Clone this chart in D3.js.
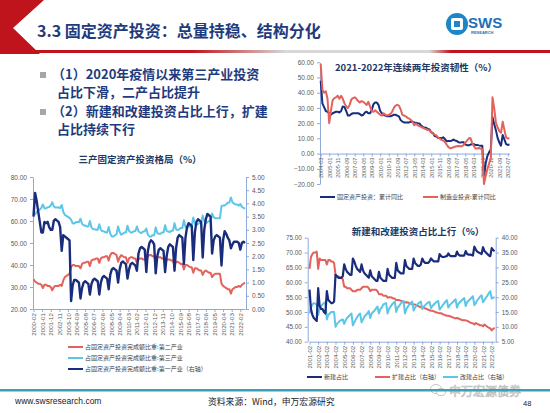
<!DOCTYPE html>
<html><head><meta charset="utf-8">
<script src="https://cdn.jsdelivr.net/npm/d3@7"></script>
<style>body{margin:0;background:#fff;}svg{display:block;}</style>
</head><body>
<script>
// ---------- DATA ----------
// Chart 1: 三产固定资产投资格局 (2-month steps from 2000-02)
const c1Start = "2000-02";
const c1XTicks = ["2000-02","2001-01","2001-12","2002-11","2003-10","2004-09","2005-08","2006-07","2007-06","2008-05","2009-04","2010-03","2011-02","2012-01","2012-12","2013-11","2014-10","2015-09","2016-08","2017-07","2018-06","2019-05","2020-04","2021-03","2022-02"];
const c1LeftTicks = [20,30,40,50,60,70,80];
const c1RightTicks = [0,0.5,1,1.5,2,2.5,3,3.5,4,4.5,5];
const c1Secondary = [
33.5,32.5,32,31.5,31.5,31, 29.5,31,31,30.5,30.5,30, 28.5,30,30.5,30.5,30.5,31, 30.5,33,34.5,35,35.5,36,
39,40,40,39.5,39.5,39.5, 38.5,40.5,41,41,41.5,41.5, 39.5,42,42.5,42.5,43,43, 41,43,43.5,43.5,44,44,
42,44.5,45.5,45.5,45,44.5, 41.5,43.5,44.5,44,43.5,43.5, 41,43,43.5,43.5,43,43, 41,42.5,43,43,42.5,42.5,
42,44,44.5,44.5,44,44, 41.5,43.5,43.5,43.5,43,43, 40.5,42.5,42.5,42.5,42,42, 39.5,41.5,41.5,41,40.5,40.5,
38,40,40,39.5,39,39, 36.5,38.5,38.5,38,37.5,37.5, 35.5,37,37.5,37,36.5,36.5, 34.5,35.5,36,36,36,36,
31.5,30.5,30,29.5,29,29, 27,29,29.5,30,30,30.5, 30,31,31.5,32];
const c1Tertiary = [
63,63,64,64.8,65.2,66, 67.5,65.7,65.8,66.2,66.4,67, 68.5,66.6,66.1,66.1,66.2,65.9, 67.3,64.2,62.8,62.3,61.9,61.4,
60.5,59,58.9,59.4,59.5,59.5, 61,58.7,58,58,57.5,57.5, 60,57,56.4,56.3,56,56, 58.5,56,55.3,55.3,54.8,54.8,
57.3,54.2,53,53,53.5,54, 57.5,55,53.8,54.2,54.8,54.8, 57.8,55.5,54.8,54.8,55.3,55.4, 57.5,55.4,54.7,54.6,55.2,55.3,
56.6,53.8,53,52.9,53.5,53.5, 57.1,54.5,54.2,54.2,54.8,54.8, 58.1,55.5,55.2,55,55.6,55.6, 59,56.2,55.8,56.2,56.8,56.8,
60.3,57.3,56.9,57.2,57.8,57.9, 61.6,58.6,58.2,58.6,59.2,59.2, 62.5,60,59.1,59.4,60,60, 63.4,61.7,61.2,61.2,61.3,61.3,
66.8,67,67,67.6,68.3,68.4, 70.7,68.5,67.9,67.5,67.5,67, 67.7,66.5,66,65.5];
const c1Primary = [
3.5,4.4,4.1,3.7,3.3,2.9, 2.9,3.3,3.25,3.3,3.1,3.0, 3.0,3.35,3.4,3.35,3.3,3.1, 2.2,2.8,2.75,2.7,2.65,2.6,
0.3,0.9,1.1,1.1,1.05,1.0, 0.4,0.8,1.0,1.05,1.0,0.95, 0.55,0.95,1.1,1.15,1.1,1.05, 0.55,1.0,1.2,1.25,1.2,1.15,
0.75,1.3,1.5,1.55,1.5,1.45, 1.0,1.5,1.75,1.8,1.75,1.7, 1.15,1.5,1.7,1.75,1.7,1.65, 1.45,2.1,2.3,2.35,2.3,2.25,
1.4,2.2,2.5,2.6,2.55,2.45, 1.35,2.0,2.25,2.3,2.25,2.2, 1.4,2.0,2.35,2.45,2.4,2.35, 1.45,2.3,2.7,2.8,2.75,2.7,
1.7,2.7,3.1,3.25,3.2,3.15, 1.85,2.9,3.3,3.4,3.35,3.3, 1.95,3.0,3.4,3.6,3.55,3.5, 2.1,2.6,2.75,2.8,2.75,2.7,
1.65,2.6,2.95,2.85,2.7,2.6, 2.3,2.45,2.55,2.55,2.55,2.5, 2.25,2.5,2.55,2.5];
const c1Legend = ["占固定资产投资完成额比重:第二产业","占固定资产投资完成额比重:第三产业","占固定资产投资完成额比重:第一产业（右轴）"];

// Chart 2: 2021-2022年连续两年投资韧性 (2-month steps from 2004-03)
const c2Start = "2004-03";
const c2XTicks = ["2004-03","2005-01","2005-11","2006-09","2007-07","2008-05","2009-03","2010-01","2010-11","2011-09","2012-07","2013-05","2014-03","2015-01","2015-11","2016-09","2017-07","2018-05","2019-03","2020-01","2020-11","2021-09","2022-07"];
const c2YTicks = [-20,-10,0,10,20,30,40,50,60];
const c2FAI = [
48,33,30.5,28,27.5,26.5, 25.5,26.5,27,27.5,27.5,27, 28,31,30.5,28,25,25, 26,26.5,26.5,26.5,26.5,26,
25,25.5,27,27.5,26.5,26.5, 28.5,32.5,33.5,33.5,32,28, 26.5,25.5,25,24.5,24.5,24.5, 25,25.5,25.5,25,24.5,22,
21,20.5,20.5,20.5,20.5,21, 21,20.5,20.3,20,19.8,18.5, 17.6,17,17,16.1,15.8,14, 13.5,11.5,11.2,10.3,10.2,10.2,
10.7,9.6,8.1,8.2,8.3,8.5, 9.2,8.6,8.3,7.5,7.2,7.5, 7.5,6.1,5.5,5.4,5.9,6.1, 6.3,5.6,5.7,5.4,5.2,5.2,
-16.1,-6.3,-1.6,0.8,2.6,24, 19.5,15.4,10.3,7.3,5.2,12.2, 9.3,6.2,5.7,5.9];
const c2Mfg = [
59,42,40,41,36,20, 28,35,36.5,37,38,36, 38,36,33,31,30,32, 35.5,36.5,37,36,34.5,33.5,
34.5,34,33,32,34,31, 28,27.5,28.5,27.5,26.5,25.5, 25,26.5,25.5,25,25.5,26, 27.5,30,31.5,32,31.5,29,
25.5,25,24.5,23.5,23,22, 21,18.6,19.8,18.5,18,17.5, 17,16.4,16,15.5,15.3,14, 13.2,12.5,12,10.5,9.9,9,
8.6,7.7,6,4.4,3.5,3.6, 4.2,4.5,4.8,5,4.8,4.8, 5.5,7.2,8.5,9.9,10.3,7.2, 5,3.3,3.3,3.7,3.1,3,
-20,-14.8,-10.2,-6.5,-3.5,37, 29.8,20.4,17.3,14.8,13.7,20.9, 15.6,10.6,9.9,10.1];
const c2Legend = ["固定资产投资：累计同比","制造业投资:累计同比"];

// Chart 3: 新建和改建投资占比上行 (2-month steps from 2001-02)
const c3Start = "2001-02";
const c3XTicks = ["2001-02","2002-02","2003-02","2004-02","2005-02","2006-02","2007-02","2008-02","2009-02","2010-02","2011-02","2012-02","2013-02","2014-02","2015-02","2016-02","2017-02","2018-02","2019-02","2020-02","2021-02","2022-02"];
const c3LeftTicks = [40,45,50,55,60,65,70,75];
const c3RightTicks = [5,10,15,20,25,30,35,40];
const c3New = [
57.5,51,49,48,47.5,47, 58,52,51,51,50,49.5, 57,54,53.5,53,53,53.5, 62.5,62,61.5,61.5,61.5,62,
66,64.5,63.5,63,62.5,62.5, 68,67,65.5,64.5,64,63.5, 66,64,63,62.5,62,61.5, 64,62,61.5,61,60.5,60.5,
63.5,61.5,61,60.5,60.5,60.5, 64.5,62.5,62,61.5,61.5,61.5, 66.5,64,63.5,63,63,63, 67.5,65.5,65,64.5,64.5,64.5,
68,66.5,66,65.5,65.5,66, 68,67,66.5,66.5,66.5,67, 68,67.5,67,67,67,67, 69.5,68.8,68.5,68.5,68.7,68.8,
69.7,69,68.8,68.8,68.8,68.8, 70.3,69.3,69,69,69,69, 70.5,69.5,69.3,69.3,69.2,69, 72,71,70.3,70,69.8,69.5,
71.8,70.5,70,69.5,69,68.8, 71.5,70.8,70.5];
const c3Expand = [
29.5,33.5,34.5,35,35,35.3, 29.5,33,32.5,32.5,32.5,32.5, 31,32.5,32.5,32,32,31.5, 27.5,27,27,26.5,26.5,26,
23.5,23.5,23,23,23,22.5, 22,22,22,22.5,22.5,22.5, 23,23.5,23.5,23.5,23.5,23, 22,22.5,22.5,22.5,22.5,22,
21,21,21,20.5,20.5,20.5, 19.8,20,20,19.8,19.5,19.5, 19,19,19,18.8,18.6,18.5, 18.2,18.3,18.2,18,17.8,17.6,
17.5,17.5,17.3,17,16.8,16.6, 16.5,16.5,16.2,16,15.8,15.6, 15.4,15.4,15.2,15,14.8,14.7, 14.6,14.6,14.3,14.1,13.9,13.7,
13.7,13.6,13.4,13.2,13,12.9, 13,12.8,12.6,12.4,12.2,12.2, 12.2,12,11.8,11.5,11.3,11.2, 10.8,11.3,11,10.8,10.5,10.5,
10.2,10.8,10.4,10,9.7,9.5, 8.8,9.3,9.7];
const c3Rebuild = [
14.5,16.5,17.5,18,17.8,17.5, 14,16,17,17.5,18,18.3, 12.5,14,14.5,15,15,15, 10,11,11.5,12,12.3,12.5,
11,12.2,13,13.5,14,14.5, 10.5,11.5,12.5,13.3,14,14.5, 11.5,12.5,13.5,14,14.5,15.3, 13,14.5,15,15.5,16.2,16.8,
14.5,16,16.5,17.5,17.8,18, 14.5,16,16.8,17.5,18,18.5, 15,16.5,17,17.8,18.3,18.7, 14.5,16,16.8,17.5,18,18.5,
15.5,16.5,17.2,17.8,18.2,18.5, 16,16.8,17.3,17.8,18.2,18.4, 16.3,17,17.5,18,18.5,18.7, 15.8,16.5,17.2,17.8,18.5,19,
16.5,17.3,17.8,18.3,18.8,19.3, 16.5,17.8,18.3,18.8,19.3,19.7, 17,18.3,18.8,19.3,19.8,20.3, 17.3,18,19,19.5,20.2,20.6,
18.3,19,19.8,20.5,21.3,22, 19.5,19.8,20];
const c3Legend = ["新建占比","扩建占比（右轴）","改建占比（右轴）"];

// ---------- DRAWING ----------
const CJK = "'Noto Sans CJK SC', sans-serif";
const NUM = "'Liberation Sans', Arial, sans-serif";
const NAVY = "#1a2d7c", RED = "#e3625b", LBLUE = "#5cc6e6", AX = "#8eaadb";
const TXT = "#1f3b7d";
function mi(s){const p=s.split("-").map(Number);return p[0]*12+p[1]-1;}

const svg = d3.select("body").append("svg").attr("width",550).attr("height",413);
const defs = svg.append("defs");
const gr = defs.append("linearGradient").attr("id","hdr").attr("x1","0").attr("x2","1").attr("y1","0").attr("y2","0");
[[0,"#c0141c"],[0.35,"#c0141c"],[0.52,"#d8d8d8"],[0.78,"#d8d8d8"],[0.82,"#c0141c"],[1,"#c0141c"]].forEach(s=>gr.append("stop").attr("offset",s[0]).attr("stop-color",s[1]));

// header
svg.append("polygon").attr("points","0,0 44,0 13,28 40,54 0,54").attr("fill","#c0141c");
svg.append("rect").attr("x",0).attr("y",50).attr("width",550).attr("height",3).attr("fill","url(#hdr)");
svg.append("text").attr("x",37).attr("y",37).attr("font-size",16).attr("font-weight","bold").attr("fill",TXT).style("font-family",CJK).text("3.3 固定资产投资：总量持稳、结构分化");
// logo
const lg = svg.append("g");
lg.append("circle").attr("cx",457).attr("cy",24).attr("r",11).attr("fill","#1d86c8");
lg.append("rect").attr("x",451).attr("y",18).attr("width",12).attr("height",12).attr("rx",2).attr("fill","#fff");
lg.append("rect").attr("x",454).attr("y",21).attr("width",6).attr("height",6).attr("fill","#1d86c8");
lg.append("text").attr("x",468).attr("y",28).attr("font-size",15).attr("font-weight","bold").attr("fill","#1d6fb8").style("font-family",NUM).text("SWS");
lg.append("text").attr("x",471).attr("y",34).attr("font-size",4).attr("font-weight","bold").attr("fill","#1d6fb8").style("font-family",NUM).text("RESEARCH");

// bullets
[[72,["（1）2020年疫情以来第三产业投资","占比下滑，二产占比提升"]],[109,["（2）新建和改建投资占比上行，扩建","占比持续下行"]]].forEach(b=>{
  svg.append("rect").attr("x",40).attr("y",b[0]).attr("width",6).attr("height",6).attr("fill","#a6a6a6");
  b[1].forEach((t,i)=>svg.append("text").attr("x",i?57:52).attr("y",b[0]+7+i*18).attr("font-size",13).attr("font-weight","bold").attr("fill",TXT).style("font-family",CJK).text(t));
});

function styleAxis(g,fs){
  g.selectAll("path,line").attr("stroke",AX).attr("stroke-width",1);
  g.selectAll("text").attr("fill","#595959").style("font-family",NUM).style("font-size",fs+"px");
}
function rotLabels(g){
  g.selectAll("text").attr("transform","rotate(-90)").attr("x",-4).attr("y",0).attr("dy","0.33em").style("text-anchor","end");
}
function line(g,start,vals,x,y,color,w){
  const s=mi(start);
  g.append("path").datum(vals.map((v,i)=>[s+2*i,v])).attr("fill","none").attr("stroke",color).attr("stroke-width",w)
   .attr("stroke-linejoin","round").attr("d",d3.line().x(d=>x(d[0])).y(d=>y(d[1])));
}
function legendItem(x,y,color,label,fs){
  svg.append("line").attr("x1",x).attr("x2",x+15).attr("y1",y).attr("y2",y).attr("stroke",color).attr("stroke-width",2);
  svg.append("text").attr("x",x+17).attr("y",y+2).attr("font-size",fs).attr("fill","#404040").style("font-family",CJK).text(label);
}
function title(x,y,t){
  svg.append("text").attr("x",x).attr("y",y).attr("text-anchor","middle").attr("font-size",9.5).attr("font-weight","bold").attr("fill","#203864").style("font-family",CJK).text(t);
}

// ---- Chart 1 ----
title(140,163,"三产固定资产投资格局（%）");
const x1 = d3.scaleLinear().domain([mi("2000-02"),mi("2022-08")]).range([33.5,245]);
const y1L = d3.scaleLinear().domain([20,80]).range([309,177]);
const y1R = d3.scaleLinear().domain([0,5]).range([309,177]);
const g1 = svg.append("g");
styleAxis(g1.append("g").attr("transform","translate(33,0)").call(d3.axisLeft(y1L).tickValues(c1LeftTicks).tickFormat(d3.format(".2f")).tickSize(3).tickSizeOuter(0)),6.5);
styleAxis(g1.append("g").attr("transform","translate(246,0)").call(d3.axisRight(y1R).tickValues(c1RightTicks).tickFormat(d3.format(".2f")).tickSize(3).tickSizeOuter(0)),6.5);
const xa1 = g1.append("g").attr("transform","translate(0,309)").call(d3.axisBottom(x1).tickValues(c1XTicks.map(mi)).tickFormat((d,i)=>c1XTicks[i]).tickSize(3).tickSizeOuter(0));
styleAxis(xa1,6.2); rotLabels(xa1);
line(g1,c1Start,c1Secondary,x1,y1L,RED,2);
line(g1,c1Start,c1Tertiary,x1,y1L,LBLUE,2);
line(g1,c1Start,c1Primary,x1,y1R,NAVY,2.4);
legendItem(68,347,RED,c1Legend[0],6);
legendItem(68,358,LBLUE,c1Legend[1],6);
legendItem(68,369,NAVY,c1Legend[2],6);

// ---- Chart 2 ----
title(416,71,"2021-2022年连续两年投资韧性（%）");
const x2 = d3.scaleLinear().domain([mi("2004-03"),mi("2022-09")]).range([320.7,509.5]);
const y2 = d3.scaleLinear().domain([-20,60]).range([184,62.3]);
const g2 = svg.append("g");
styleAxis(g2.append("g").attr("transform","translate(320,0)").call(d3.axisLeft(y2).tickValues(c2YTicks).tickFormat(d3.format(".2f")).tickSize(3).tickSizeOuter(0)),6.5);
const xa2 = g2.append("g").attr("transform","translate(0,"+y2(0)+")").call(d3.axisBottom(x2).tickValues(c2XTicks.map(mi)).tickFormat((d,i)=>c2XTicks[i]).tickSize(3).tickSizeOuter(0));
styleAxis(xa2,5.6); rotLabels(xa2);
line(g2,c2Start,c2FAI,x2,y2,NAVY,2);
line(g2,c2Start,c2Mfg,x2,y2,RED,2);
legendItem(320,197,NAVY,c2Legend[0],6);
legendItem(423,197,RED,c2Legend[1],6);

// ---- Chart 3 ----
title(418,235,"新建和改建投资占比上行（%）");
const x3 = d3.scaleLinear().domain([mi("2001-02"),mi("2022-06")]).range([309.5,494.6]);
const y3L = d3.scaleLinear().domain([40,75]).range([341.7,237.7]);
const y3R = d3.scaleLinear().domain([5,40]).range([341.7,237.7]);
const g3 = svg.append("g");
styleAxis(g3.append("g").attr("transform","translate(307.7,0)").call(d3.axisLeft(y3L).tickValues(c3LeftTicks).tickFormat(d3.format(".2f")).tickSize(3).tickSizeOuter(0)),6.3);
styleAxis(g3.append("g").attr("transform","translate(495.7,0)").call(d3.axisRight(y3R).tickValues(c3RightTicks).tickFormat(d3.format(".2f")).tickSize(3).tickSizeOuter(0)),6.3);
const xa3 = g3.append("g").attr("transform","translate(0,341.7)").call(d3.axisBottom(x3).tickValues(c3XTicks.map(mi)).tickFormat((d,i)=>c3XTicks[i]).tickSize(3).tickSizeOuter(0));
styleAxis(xa3,6.2); rotLabels(xa3);
line(g3,c3Start,c3Expand,x3,y3R,RED,2);
line(g3,c3Start,c3Rebuild,x3,y3R,LBLUE,2);
line(g3,c3Start,c3New,x3,y3L,NAVY,2.2);
legendItem(307,377,NAVY,c3Legend[0],6);
legendItem(375,377,RED,c3Legend[1],6);
legendItem(443,377,LBLUE,c3Legend[2],6);

// ---- footer ----
const wm = svg.append("g").attr("opacity",0.55);
wm.append("ellipse").attr("cx",436).attr("cy",389).attr("rx",5.5).attr("ry",4.5).attr("fill","none").attr("stroke","#999").attr("stroke-width",1);
wm.append("ellipse").attr("cx",441).attr("cy",392).attr("rx",4.5).attr("ry",3.5).attr("fill","#fff").attr("stroke","#999").attr("stroke-width",1);
wm.append("text").attr("x",449).attr("y",396).attr("font-size",12).attr("fill","#fff").attr("stroke","#8a8a8a").attr("stroke-width",0.7).style("font-family",CJK).text("申万宏源债券");
svg.append("rect").attr("x",0).attr("y",389).attr("width",550).attr("height",2.5).attr("fill","#3aa0b4");
svg.append("text").attr("x",15).attr("y",404).attr("font-size",8.5).attr("fill","#222").style("font-family",NUM).text("www.swsresearch.com");
svg.append("text").attr("x",208).attr("y",405).attr("font-size",8.8).attr("fill","#222").style("font-family",CJK).text("资料来源：Wind，申万宏源研究");
svg.append("text").attr("x",523).attr("y",406).attr("font-size",7.5).attr("fill","#222").style("font-family",NUM).text("48");
</script>
</body></html>
